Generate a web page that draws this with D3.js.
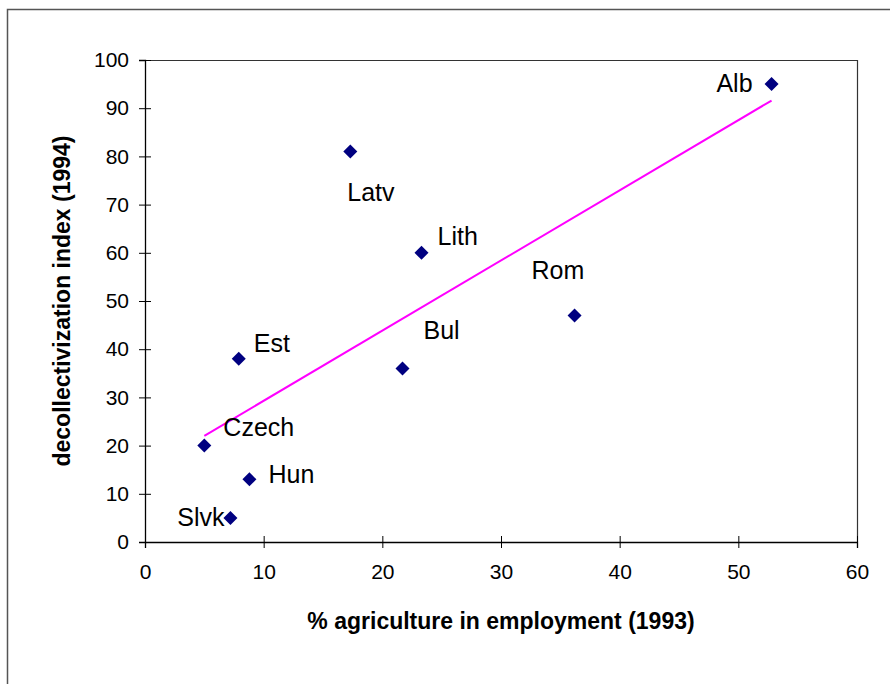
<!DOCTYPE html>
<html>
<head>
<meta charset="utf-8">
<script src="https://cdn.jsdelivr.net/npm/d3@7"></script>
<style>
  body { margin: 0; background: #fff; }
  text { font-family: "Liberation Sans", Arial, sans-serif; }
</style>
</head>
<body>
<div id="chart"></div>
<script>
// data
var countries = ["Alb", "Latv", "Lith", "Rom", "Bul", "Est", "Czech", "Hun", "Slvk"];
var agriShare = [52.8, 17.3, 23.3, 36.2, 21.7, 7.9, 5.0, 8.8, 7.2];
var decollIndex = [95, 81, 60, 47, 36, 38, 20, 13, 5];
var xTicks = [0, 10, 20, 30, 40, 50, 60];
var yTicks = [0, 10, 20, 30, 40, 50, 60, 70, 80, 90, 100];

// label nudges in pixels (dx, dy, anchor) relative to the marker
var labelNudge = [
  [-19, 8, "end"], [-3, 49, "start"], [16, -8, "start"], [-43, -36, "start"],
  [21, -29, "start"], [15, -7, "start"], [19, -10, "start"], [19, 4, "start"],
  [-6, 8, "end"]
];

var width = 890, height = 684;
var margin = {left: 145, top: 60, right: 33, bottom: 142};

var svg = d3.select("#chart").append("svg")
  .attr("width", width)
  .attr("height", height);

// outer chart frame
svg.append("rect")
  .attr("x", 7.5).attr("y", 9.5)
  .attr("width", 900).attr("height", 700)
  .attr("fill", "none")
  .attr("stroke", "#555")
  .attr("stroke-width", 1.5);

var x = d3.scaleLinear().domain([0, 60]).range([margin.left, width - margin.right]);
var y = d3.scaleLinear().domain([0, 100]).range([height - margin.bottom, margin.top]);

// plot area border (top + right)
svg.append("path")
  .attr("d", "M" + x(0) + "," + (y(100) + 0.5) + "H" + (x(60) + 0.5) + "V" + y(0))
  .attr("fill", "none")
  .attr("stroke", "#333")
  .attr("stroke-width", 1.2);

var xAxis = svg.append("g")
  .attr("transform", "translate(0," + y(0) + ")")
  .call(d3.axisBottom(x).tickValues(xTicks).tickSize(6).tickPadding(16));
xAxis.selectAll(".tick line").attr("y1", -6);

var yAxis = svg.append("g")
  .attr("transform", "translate(" + x(0) + ",0)")
  .call(d3.axisLeft(y).tickValues(yTicks).tickSize(6).tickPadding(10));
yAxis.selectAll(".tick line").attr("x1", 6);

svg.selectAll(".domain").attr("stroke", "#000").attr("stroke-width", 1.3);
svg.selectAll(".tick line").attr("stroke", "#000");
svg.selectAll(".tick text")
  .attr("fill", "#000")
  .style("font-size", "21px")
  .style("font-family", "'Liberation Sans', Arial, sans-serif");

// linear trend line (least squares)
var mx = d3.mean(agriShare), my = d3.mean(decollIndex);
var sxy = d3.sum(agriShare, function(v, i){ return (v - mx) * (decollIndex[i] - my); });
var sxx = d3.sum(agriShare, function(v){ return (v - mx) * (v - mx); });
var slope = sxy / sxx, intercept = my - slope * mx;
var ext = d3.extent(agriShare);

svg.append("line")
  .attr("x1", x(ext[0])).attr("y1", y(intercept + slope * ext[0]))
  .attr("x2", x(ext[1])).attr("y2", y(intercept + slope * ext[1]))
  .attr("stroke", "#ff00ff")
  .attr("stroke-width", 2);

var pts = countries.map(function(c, i){
  return {name: c, ax: agriShare[i], dy: decollIndex[i], nudge: labelNudge[i]};
});

svg.selectAll("path.pt")
  .data(pts)
  .enter()
  .append("path")
  .attr("class", "pt")
  .attr("d", "M0,-7L7,0L0,7L-7,0Z")
  .attr("transform", function(d){ return "translate(" + x(d.ax) + "," + y(d.dy) + ")"; })
  .attr("fill", "#000080");

svg.selectAll("text.lbl")
  .data(pts)
  .enter()
  .append("text")
  .attr("class", "lbl")
  .attr("x", function(d){ return x(d.ax) + d.nudge[0]; })
  .attr("y", function(d){ return y(d.dy) + d.nudge[1]; })
  .attr("text-anchor", function(d){ return d.nudge[2]; })
  .style("font-size", "25px")
  .text(function(d){ return d.name; });

svg.append("text")
  .attr("x", (x(0) + x(60)) / 2)
  .attr("y", 629)
  .attr("text-anchor", "middle")
  .style("font-size", "23px")
  .style("font-weight", "bold")
  .text("% agriculture in employment (1993)");

svg.append("text")
  .attr("transform", "translate(70," + (y(0) + y(100)) / 2 + ") rotate(-90)")
  .attr("text-anchor", "middle")
  .style("font-size", "23px")
  .style("font-weight", "bold")
  .text("decollectivization index (1994)");
</script>
</body>
</html>
